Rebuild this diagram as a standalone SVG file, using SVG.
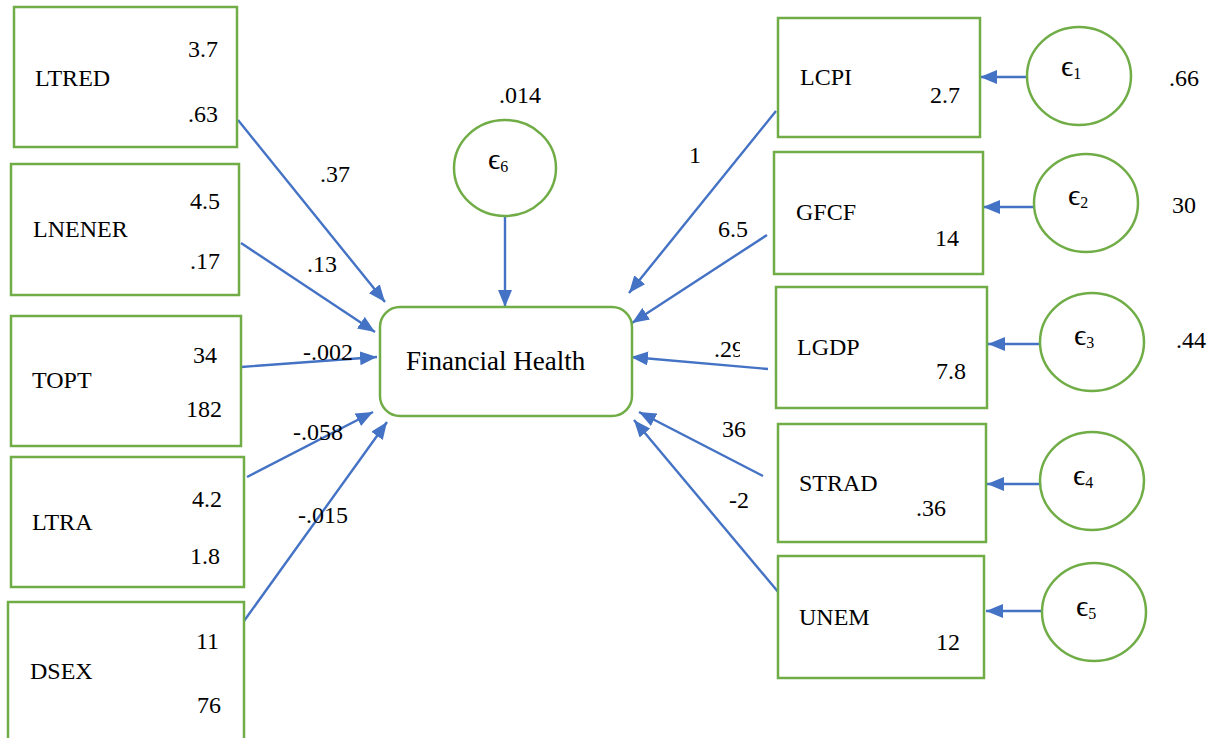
<svg xmlns="http://www.w3.org/2000/svg" width="1218" height="738" viewBox="0 0 1218 738">
  <style>
    .box { fill: #ffffff; stroke: #70AD47; stroke-width: 2.5; }
    .err { fill: #ffffff; stroke: #70AD47; stroke-width: 2.5; }
    .edge { fill: none; stroke: #4472C4; stroke-width: 2.4; marker-end: url(#head); }
    text { font-family: 'Liberation Serif', serif; font-size: 24px; fill: #000000; }
    .num { text-anchor: end; }
    .title { font-size: 27px; }
    .eps { font-size: 30px; }
    .sub { font-size: 16px; }
  </style>
  <defs>
    <marker id="head" markerUnits="userSpaceOnUse" markerWidth="18" markerHeight="14" refX="17" refY="7" orient="auto">
      <path d="M0,0 L17,7 L0,14 Z" fill="#4472C4"/>
    </marker>
    <clipPath id="clip29">
      <rect x="700" y="330" width="40" height="40"/>
    </clipPath>
  </defs>

  <!-- connectors -->
  <g id="connectors">
    <line class="edge" x1="238" y1="120" x2="385" y2="302"/>
    <line class="edge" x1="241" y1="243" x2="375" y2="332"/>
    <line class="edge" x1="241" y1="367" x2="377" y2="357"/>
    <line class="edge" x1="247" y1="477" x2="373" y2="412"/>
    <line class="edge" x1="244" y1="621" x2="387" y2="422"/>
    <line class="edge" x1="505" y1="216" x2="505" y2="307"/>
    <line class="edge" x1="776" y1="111" x2="629" y2="293"/>
    <line class="edge" x1="767" y1="235" x2="632" y2="323"/>
    <line class="edge" x1="768" y1="369" x2="631" y2="357"/>
    <line class="edge" x1="763" y1="476" x2="639" y2="412"/>
    <line class="edge" x1="779" y1="593" x2="634" y2="420"/>
    <line class="edge" x1="1027" y1="77" x2="980" y2="77"/>
    <line class="edge" x1="1034" y1="207" x2="983" y2="207"/>
    <line class="edge" x1="1041" y1="344" x2="988" y2="344"/>
    <line class="edge" x1="1040" y1="484" x2="987" y2="484"/>
    <line class="edge" x1="1042" y1="611" x2="986" y2="611"/>
  </g>

  <!-- path coefficients -->
  <g id="coefficients">
    <text x="320" y="182">.37</text>
    <text x="307" y="272">.13</text>
    <text x="303" y="360">-.002</text>
    <text x="293" y="440">-.058</text>
    <text x="298" y="523">-.015</text>
    <text x="689" y="163">1</text>
    <text x="718" y="237">6.5</text>
    <text x="714" y="357" clip-path="url(#clip29)">.29</text>
    <text x="722" y="437">36</text>
    <text x="729" y="508">-2</text>
  </g>

  <!-- outcome -->
  <g id="financial-health">
    <rect class="box" x="380" y="307" width="252" height="109" rx="20" ry="20"/>
    <text class="title" x="406" y="370">Financial Health</text>
  </g>

  <g id="e6">
    <ellipse class="err" cx="505" cy="168" rx="51" ry="48"/>
    <text class="eps" x="488" y="169">ϵ<tspan class="sub" dy="3">6</tspan></text>
    <text x="499" y="103">.014</text>
  </g>

  <!-- left-hand predictors -->
  <g id="ltred">
    <rect class="box" x="14" y="7" width="223" height="140"/>
    <text x="35" y="86">LTRED</text>
    <text class="num" x="218" y="57">3.7</text>
    <text class="num" x="218" y="122">.63</text>
  </g>
  <g id="lnener">
    <rect class="box" x="11" y="164" width="228" height="131"/>
    <text x="33" y="237">LNENER</text>
    <text class="num" x="220" y="209">4.5</text>
    <text class="num" x="220" y="269">.17</text>
  </g>
  <g id="topt">
    <rect class="box" x="11" y="316" width="230" height="130"/>
    <text x="32" y="388">TOPT</text>
    <text class="num" x="217" y="363">34</text>
    <text class="num" x="222" y="417">182</text>
  </g>
  <g id="ltra">
    <rect class="box" x="11" y="457" width="233" height="130"/>
    <text x="32" y="530">LTRA</text>
    <text class="num" x="222" y="507">4.2</text>
    <text class="num" x="220" y="564">1.8</text>
  </g>
  <g id="dsex">
    <rect class="box" x="8" y="602" width="236" height="150"/>
    <text x="30" y="679">DSEX</text>
    <text class="num" x="219" y="649">11</text>
    <text class="num" x="221" y="713">76</text>
  </g>

  <!-- right-hand indicators -->
  <g id="lcpi">
    <rect class="box" x="778" y="18" width="202" height="119"/>
    <text x="800" y="85">LCPI</text>
    <text class="num" x="960" y="103">2.7</text>
  </g>
  <g id="gfcf">
    <rect class="box" x="774" y="152" width="209" height="122"/>
    <text x="796" y="220">GFCF</text>
    <text class="num" x="959" y="246">14</text>
  </g>
  <g id="lgdp">
    <rect class="box" x="776" y="287" width="211" height="121"/>
    <text x="797" y="355">LGDP</text>
    <text class="num" x="966" y="379">7.8</text>
  </g>
  <g id="strad">
    <rect class="box" x="778" y="424" width="208" height="118"/>
    <text x="799" y="491">STRAD</text>
    <text class="num" x="946" y="516">.36</text>
  </g>
  <g id="unem">
    <rect class="box" x="778" y="556" width="206" height="122"/>
    <text x="799" y="625">UNEM</text>
    <text class="num" x="960" y="650">12</text>
  </g>

  <!-- error terms -->
  <g id="e1">
    <ellipse class="err" cx="1079" cy="76" rx="52" ry="49"/>
    <text class="eps" x="1061" y="76">ϵ<tspan class="sub" dy="3">1</tspan></text>
    <text x="1169" y="86">.66</text>
  </g>
  <g id="e2">
    <ellipse class="err" cx="1086" cy="203" rx="52" ry="49"/>
    <text class="eps" x="1068" y="205">ϵ<tspan class="sub" dy="3">2</tspan></text>
    <text x="1172" y="213">30</text>
  </g>
  <g id="e3">
    <ellipse class="err" cx="1092" cy="342" rx="52" ry="49"/>
    <text class="eps" x="1074" y="345">ϵ<tspan class="sub" dy="3">3</tspan></text>
    <text x="1176" y="348">.44</text>
  </g>
  <g id="e4">
    <ellipse class="err" cx="1092" cy="481" rx="52" ry="49"/>
    <text class="eps" x="1073" y="485">ϵ<tspan class="sub" dy="3">4</tspan></text>
  </g>
  <g id="e5">
    <ellipse class="err" cx="1094" cy="612" rx="52" ry="49"/>
    <text class="eps" x="1076" y="616">ϵ<tspan class="sub" dy="3">5</tspan></text>
  </g>
</svg>
